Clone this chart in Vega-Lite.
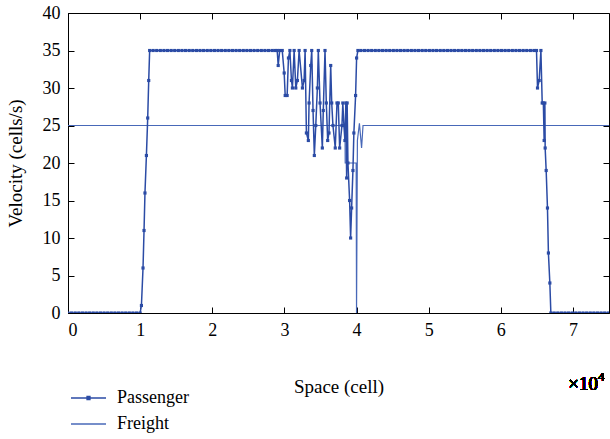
{
  "$schema": "https://vega.github.io/schema/vega-lite/v6.json",
  "width": 541,
  "height": 300,
  "autosize": {"type": "none"},
  "padding": {"left": 68, "top": 13, "right": 1, "bottom": 126},
  "background": "white",
  "config": {
    "view": {"stroke": "black", "strokeWidth": 1},
    "font": "Liberation Serif",
    "axis": {"labelFont": "Liberation Serif", "titleFont": "Liberation Serif"},
    "legend": {"labelFont": "Liberation Serif"},
    "text": {"font": "Liberation Serif"}
  },
  "data": {
    "values": [
      {"x": 0, "v": 0, "s": "Passenger"},
      {"x": 500, "v": 0, "s": "Passenger"},
      {"x": 1000, "v": 0, "s": "Passenger"},
      {"x": 1500, "v": 0, "s": "Passenger"},
      {"x": 2000, "v": 0, "s": "Passenger"},
      {"x": 2500, "v": 0, "s": "Passenger"},
      {"x": 3000, "v": 0, "s": "Passenger"},
      {"x": 3500, "v": 0, "s": "Passenger"},
      {"x": 4000, "v": 0, "s": "Passenger"},
      {"x": 4500, "v": 0, "s": "Passenger"},
      {"x": 5000, "v": 0, "s": "Passenger"},
      {"x": 5500, "v": 0, "s": "Passenger"},
      {"x": 6000, "v": 0, "s": "Passenger"},
      {"x": 6500, "v": 0, "s": "Passenger"},
      {"x": 7000, "v": 0, "s": "Passenger"},
      {"x": 7500, "v": 0, "s": "Passenger"},
      {"x": 8000, "v": 0, "s": "Passenger"},
      {"x": 8500, "v": 0, "s": "Passenger"},
      {"x": 9000, "v": 0, "s": "Passenger"},
      {"x": 9500, "v": 0, "s": "Passenger"},
      {"x": 10000, "v": 0, "s": "Passenger"},
      {"x": 10180, "v": 1, "s": "Passenger"},
      {"x": 10400, "v": 6, "s": "Passenger"},
      {"x": 10540, "v": 11, "s": "Passenger"},
      {"x": 10670, "v": 16, "s": "Passenger"},
      {"x": 10870, "v": 21, "s": "Passenger"},
      {"x": 11050, "v": 26, "s": "Passenger"},
      {"x": 11190, "v": 31, "s": "Passenger"},
      {"x": 11320, "v": 35, "s": "Passenger"},
      {"x": 11800, "v": 35, "s": "Passenger"},
      {"x": 12300, "v": 35, "s": "Passenger"},
      {"x": 12800, "v": 35, "s": "Passenger"},
      {"x": 13300, "v": 35, "s": "Passenger"},
      {"x": 13800, "v": 35, "s": "Passenger"},
      {"x": 14300, "v": 35, "s": "Passenger"},
      {"x": 14800, "v": 35, "s": "Passenger"},
      {"x": 15300, "v": 35, "s": "Passenger"},
      {"x": 15800, "v": 35, "s": "Passenger"},
      {"x": 16300, "v": 35, "s": "Passenger"},
      {"x": 16800, "v": 35, "s": "Passenger"},
      {"x": 17300, "v": 35, "s": "Passenger"},
      {"x": 17800, "v": 35, "s": "Passenger"},
      {"x": 18300, "v": 35, "s": "Passenger"},
      {"x": 18800, "v": 35, "s": "Passenger"},
      {"x": 19300, "v": 35, "s": "Passenger"},
      {"x": 19800, "v": 35, "s": "Passenger"},
      {"x": 20300, "v": 35, "s": "Passenger"},
      {"x": 20800, "v": 35, "s": "Passenger"},
      {"x": 21300, "v": 35, "s": "Passenger"},
      {"x": 21800, "v": 35, "s": "Passenger"},
      {"x": 22300, "v": 35, "s": "Passenger"},
      {"x": 22800, "v": 35, "s": "Passenger"},
      {"x": 23300, "v": 35, "s": "Passenger"},
      {"x": 23800, "v": 35, "s": "Passenger"},
      {"x": 24300, "v": 35, "s": "Passenger"},
      {"x": 24800, "v": 35, "s": "Passenger"},
      {"x": 25300, "v": 35, "s": "Passenger"},
      {"x": 25800, "v": 35, "s": "Passenger"},
      {"x": 26300, "v": 35, "s": "Passenger"},
      {"x": 26800, "v": 35, "s": "Passenger"},
      {"x": 27300, "v": 35, "s": "Passenger"},
      {"x": 27800, "v": 35, "s": "Passenger"},
      {"x": 28300, "v": 35, "s": "Passenger"},
      {"x": 28700, "v": 35, "s": "Passenger"},
      {"x": 29000, "v": 35, "s": "Passenger"},
      {"x": 29140, "v": 33, "s": "Passenger"},
      {"x": 29350, "v": 35, "s": "Passenger"},
      {"x": 29700, "v": 35, "s": "Passenger"},
      {"x": 29970, "v": 32, "s": "Passenger"},
      {"x": 30110, "v": 29, "s": "Passenger"},
      {"x": 30380, "v": 29, "s": "Passenger"},
      {"x": 30560, "v": 34, "s": "Passenger"},
      {"x": 30760, "v": 35, "s": "Passenger"},
      {"x": 30980, "v": 31, "s": "Passenger"},
      {"x": 31110, "v": 30, "s": "Passenger"},
      {"x": 31350, "v": 35, "s": "Passenger"},
      {"x": 31580, "v": 30, "s": "Passenger"},
      {"x": 31800, "v": 31, "s": "Passenger"},
      {"x": 32040, "v": 35, "s": "Passenger"},
      {"x": 32500, "v": 30, "s": "Passenger"},
      {"x": 32730, "v": 31, "s": "Passenger"},
      {"x": 32870, "v": 35, "s": "Passenger"},
      {"x": 33050, "v": 24, "s": "Passenger"},
      {"x": 33320, "v": 23, "s": "Passenger"},
      {"x": 33420, "v": 28, "s": "Passenger"},
      {"x": 33650, "v": 33, "s": "Passenger"},
      {"x": 33790, "v": 35, "s": "Passenger"},
      {"x": 33970, "v": 27, "s": "Passenger"},
      {"x": 34150, "v": 21, "s": "Passenger"},
      {"x": 34350, "v": 25, "s": "Passenger"},
      {"x": 34570, "v": 30, "s": "Passenger"},
      {"x": 34700, "v": 35, "s": "Passenger"},
      {"x": 34940, "v": 28, "s": "Passenger"},
      {"x": 35260, "v": 22, "s": "Passenger"},
      {"x": 35390, "v": 27, "s": "Passenger"},
      {"x": 35630, "v": 35, "s": "Passenger"},
      {"x": 35810, "v": 28, "s": "Passenger"},
      {"x": 36000, "v": 23, "s": "Passenger"},
      {"x": 36180, "v": 24, "s": "Passenger"},
      {"x": 36420, "v": 33, "s": "Passenger"},
      {"x": 36560, "v": 28, "s": "Passenger"},
      {"x": 36730, "v": 25, "s": "Passenger"},
      {"x": 37050, "v": 22, "s": "Passenger"},
      {"x": 37290, "v": 28, "s": "Passenger"},
      {"x": 37470, "v": 28, "s": "Passenger"},
      {"x": 37660, "v": 22, "s": "Passenger"},
      {"x": 37980, "v": 25, "s": "Passenger"},
      {"x": 38100, "v": 28, "s": "Passenger"},
      {"x": 38250, "v": 25, "s": "Passenger"},
      {"x": 38390, "v": 23, "s": "Passenger"},
      {"x": 38520, "v": 28, "s": "Passenger"},
      {"x": 38630, "v": 18, "s": "Passenger"},
      {"x": 38700, "v": 28, "s": "Passenger"},
      {"x": 38810, "v": 20, "s": "Passenger"},
      {"x": 39040, "v": 15, "s": "Passenger"},
      {"x": 39180, "v": 10, "s": "Passenger"},
      {"x": 39320, "v": 14, "s": "Passenger"},
      {"x": 39500, "v": 19, "s": "Passenger"},
      {"x": 39630, "v": 24, "s": "Passenger"},
      {"x": 39870, "v": 29, "s": "Passenger"},
      {"x": 40010, "v": 34, "s": "Passenger"},
      {"x": 40190, "v": 35, "s": "Passenger"},
      {"x": 40600, "v": 35, "s": "Passenger"},
      {"x": 41100, "v": 35, "s": "Passenger"},
      {"x": 41600, "v": 35, "s": "Passenger"},
      {"x": 42100, "v": 35, "s": "Passenger"},
      {"x": 42600, "v": 35, "s": "Passenger"},
      {"x": 43100, "v": 35, "s": "Passenger"},
      {"x": 43600, "v": 35, "s": "Passenger"},
      {"x": 44100, "v": 35, "s": "Passenger"},
      {"x": 44600, "v": 35, "s": "Passenger"},
      {"x": 45100, "v": 35, "s": "Passenger"},
      {"x": 45600, "v": 35, "s": "Passenger"},
      {"x": 46100, "v": 35, "s": "Passenger"},
      {"x": 46600, "v": 35, "s": "Passenger"},
      {"x": 47100, "v": 35, "s": "Passenger"},
      {"x": 47600, "v": 35, "s": "Passenger"},
      {"x": 48100, "v": 35, "s": "Passenger"},
      {"x": 48600, "v": 35, "s": "Passenger"},
      {"x": 49100, "v": 35, "s": "Passenger"},
      {"x": 49600, "v": 35, "s": "Passenger"},
      {"x": 50100, "v": 35, "s": "Passenger"},
      {"x": 50600, "v": 35, "s": "Passenger"},
      {"x": 51100, "v": 35, "s": "Passenger"},
      {"x": 51600, "v": 35, "s": "Passenger"},
      {"x": 52100, "v": 35, "s": "Passenger"},
      {"x": 52600, "v": 35, "s": "Passenger"},
      {"x": 53100, "v": 35, "s": "Passenger"},
      {"x": 53600, "v": 35, "s": "Passenger"},
      {"x": 54100, "v": 35, "s": "Passenger"},
      {"x": 54600, "v": 35, "s": "Passenger"},
      {"x": 55100, "v": 35, "s": "Passenger"},
      {"x": 55600, "v": 35, "s": "Passenger"},
      {"x": 56100, "v": 35, "s": "Passenger"},
      {"x": 56600, "v": 35, "s": "Passenger"},
      {"x": 57100, "v": 35, "s": "Passenger"},
      {"x": 57600, "v": 35, "s": "Passenger"},
      {"x": 58100, "v": 35, "s": "Passenger"},
      {"x": 58600, "v": 35, "s": "Passenger"},
      {"x": 59100, "v": 35, "s": "Passenger"},
      {"x": 59600, "v": 35, "s": "Passenger"},
      {"x": 60100, "v": 35, "s": "Passenger"},
      {"x": 60600, "v": 35, "s": "Passenger"},
      {"x": 61100, "v": 35, "s": "Passenger"},
      {"x": 61600, "v": 35, "s": "Passenger"},
      {"x": 62100, "v": 35, "s": "Passenger"},
      {"x": 62600, "v": 35, "s": "Passenger"},
      {"x": 63100, "v": 35, "s": "Passenger"},
      {"x": 63600, "v": 35, "s": "Passenger"},
      {"x": 64100, "v": 35, "s": "Passenger"},
      {"x": 64600, "v": 35, "s": "Passenger"},
      {"x": 64950, "v": 35, "s": "Passenger"},
      {"x": 65090, "v": 30, "s": "Passenger"},
      {"x": 65320, "v": 31, "s": "Passenger"},
      {"x": 65560, "v": 35, "s": "Passenger"},
      {"x": 65740, "v": 28, "s": "Passenger"},
      {"x": 65900, "v": 28, "s": "Passenger"},
      {"x": 66010, "v": 23, "s": "Passenger"},
      {"x": 66110, "v": 28, "s": "Passenger"},
      {"x": 66150, "v": 22, "s": "Passenger"},
      {"x": 66290, "v": 19, "s": "Passenger"},
      {"x": 66470, "v": 14, "s": "Passenger"},
      {"x": 66600, "v": 8, "s": "Passenger"},
      {"x": 66800, "v": 4, "s": "Passenger"},
      {"x": 66940, "v": 0, "s": "Passenger"},
      {"x": 67400, "v": 0, "s": "Passenger"},
      {"x": 67900, "v": 0, "s": "Passenger"},
      {"x": 68400, "v": 0, "s": "Passenger"},
      {"x": 68900, "v": 0, "s": "Passenger"},
      {"x": 69400, "v": 0, "s": "Passenger"},
      {"x": 69900, "v": 0, "s": "Passenger"},
      {"x": 70400, "v": 0, "s": "Passenger"},
      {"x": 70900, "v": 0, "s": "Passenger"},
      {"x": 71400, "v": 0, "s": "Passenger"},
      {"x": 71900, "v": 0, "s": "Passenger"},
      {"x": 72400, "v": 0, "s": "Passenger"},
      {"x": 72900, "v": 0, "s": "Passenger"},
      {"x": 73400, "v": 0, "s": "Passenger"},
      {"x": 73900, "v": 0, "s": "Passenger"},
      {"x": 74400, "v": 0, "s": "Passenger"},
      {"x": 74900, "v": 0, "s": "Passenger"},
      {"x": 0, "v": 25, "s": "Freight"},
      {"x": 38400, "v": 25, "s": "Freight"},
      {"x": 38430, "v": 20, "s": "Freight"},
      {"x": 39950, "v": 20, "s": "Freight"},
      {"x": 40000, "v": 0, "s": "Freight"},
      {"x": 40120, "v": 23, "s": "Freight"},
      {"x": 40400, "v": 25.3, "s": "Freight"},
      {"x": 40700, "v": 22, "s": "Freight"},
      {"x": 40900, "v": 25, "s": "Freight"},
      {"x": 75000, "v": 25, "s": "Freight"}
    ]
  },
  "layer": [
    {
      "transform": [{"filter": "datum.s === 'Freight'"}],
      "mark": {"type": "line", "strokeWidth": 1.2, "clip": true},
      "encoding": {
        "x": {"field": "x", "type": "quantitative", "scale": {"domain": [0, 75000], "nice": false},
              "axis": {"orient": "top", "labels": false, "title": null, "values": [0, 10000, 20000, 30000, 40000, 50000, 60000, 70000],
                       "domain": false, "grid": false, "ticks": true, "tickSize": -6, "tickColor": "black", "tickWidth": 1}},
        "y": {"field": "v", "type": "quantitative", "scale": {"domain": [0, 40], "nice": false},
              "axis": {"orient": "right", "labels": false, "title": null, "values": [0, 5, 10, 15, 20, 25, 30, 35, 40],
                       "domain": false, "grid": false, "ticks": true, "tickSize": -6, "tickColor": "black", "tickWidth": 1}},
        "color": {"field": "s", "type": "nominal",
                  "scale": {"domain": ["Passenger", "Freight"], "range": ["#2b4ba5", "#4868b8"]},
                  "legend": {"orient": "none", "legendX": 2, "legendY": 375, "title": null,
                             "symbolType": "stroke", "symbolSize": 1225, "symbolStrokeWidth": 1.5,
                             "labelOffset": 10, "clipHeight": 20, "rowPadding": 6,
                             "labelFont": "Liberation Serif", "labelFontSize": 18, "labelColor": "black",
                             "encode": {"symbols": {"update": {"shape": {"signal": "datum.value === 'Passenger' ? 'M-1,0H1M-0.08,-0.08H0.08V0.08H-0.08Z' : 'stroke'"}}}}}},
        "order": {"field": "x", "type": "quantitative"}
      }
    },
    {
      "transform": [{"filter": "datum.s === 'Passenger'"}],
      "mark": {"type": "line", "strokeWidth": 1.5, "clip": true,
               "point": {"shape": "square", "size": 10, "filled": true}},
      "encoding": {
        "x": {"field": "x", "type": "quantitative",
              "axis": {"orient": "bottom", "title": "Space (cell)", "values": [0, 10000, 20000, 30000, 40000, 50000, 60000, 70000],
                       "labelExpr": "datum.value / 10000", "titlePadding": 38, "grid": false,
                       "labelFont": "Liberation Serif", "labelFontSize": 18, "labelColor": "black",
                       "titleFont": "Liberation Serif", "titleFontSize": 19, "titleFontWeight": "normal", "titleColor": "black",
                       "domainColor": "black", "tickColor": "black", "ticks": true, "tickSize": -6, "tickWidth": 1, "labelPadding": 14}},
        "y": {"field": "v", "type": "quantitative",
              "axis": {"orient": "left", "title": "Velocity (cells/s)", "values": [0, 5, 10, 15, 20, 25, 30, 35, 40], "titlePadding": 17, "grid": false,
                       "labelFont": "Liberation Serif", "labelFontSize": 18, "labelColor": "black",
                       "titleFont": "Liberation Serif", "titleFontSize": 19, "titleFontWeight": "normal", "titleColor": "black",
                       "domainColor": "black", "tickColor": "black", "ticks": true, "tickSize": -6, "tickWidth": 1, "labelPadding": 14}},
        "color": {"field": "s", "type": "nominal"},
        "order": {"field": "x", "type": "quantitative"}
      }
    },
    {
      "mark": {"type": "text", "text": "×10", "align": "right", "baseline": "middle", "fontSize": 19, "font": "Liberation Serif", "fontWeight": "normal", "dx": -11, "color": "black"},
      "encoding": {
        "x": {"datum": 75000, "type": "quantitative", "axis": null},
        "y": {"datum": -9.4, "type": "quantitative", "axis": null}
      }
    },
    {
      "mark": {"type": "text", "text": "4", "align": "left", "baseline": "middle", "fontSize": 13, "font": "Liberation Serif", "fontWeight": "normal", "dx": -11, "dy": -7, "color": "black"},
      "encoding": {
        "x": {"datum": 75000, "type": "quantitative", "axis": null},
        "y": {"datum": -9.4, "type": "quantitative", "axis": null}
      }
    }
  ],
  "resolve": {"axis": {"x": "independent", "y": "independent"}}
}
